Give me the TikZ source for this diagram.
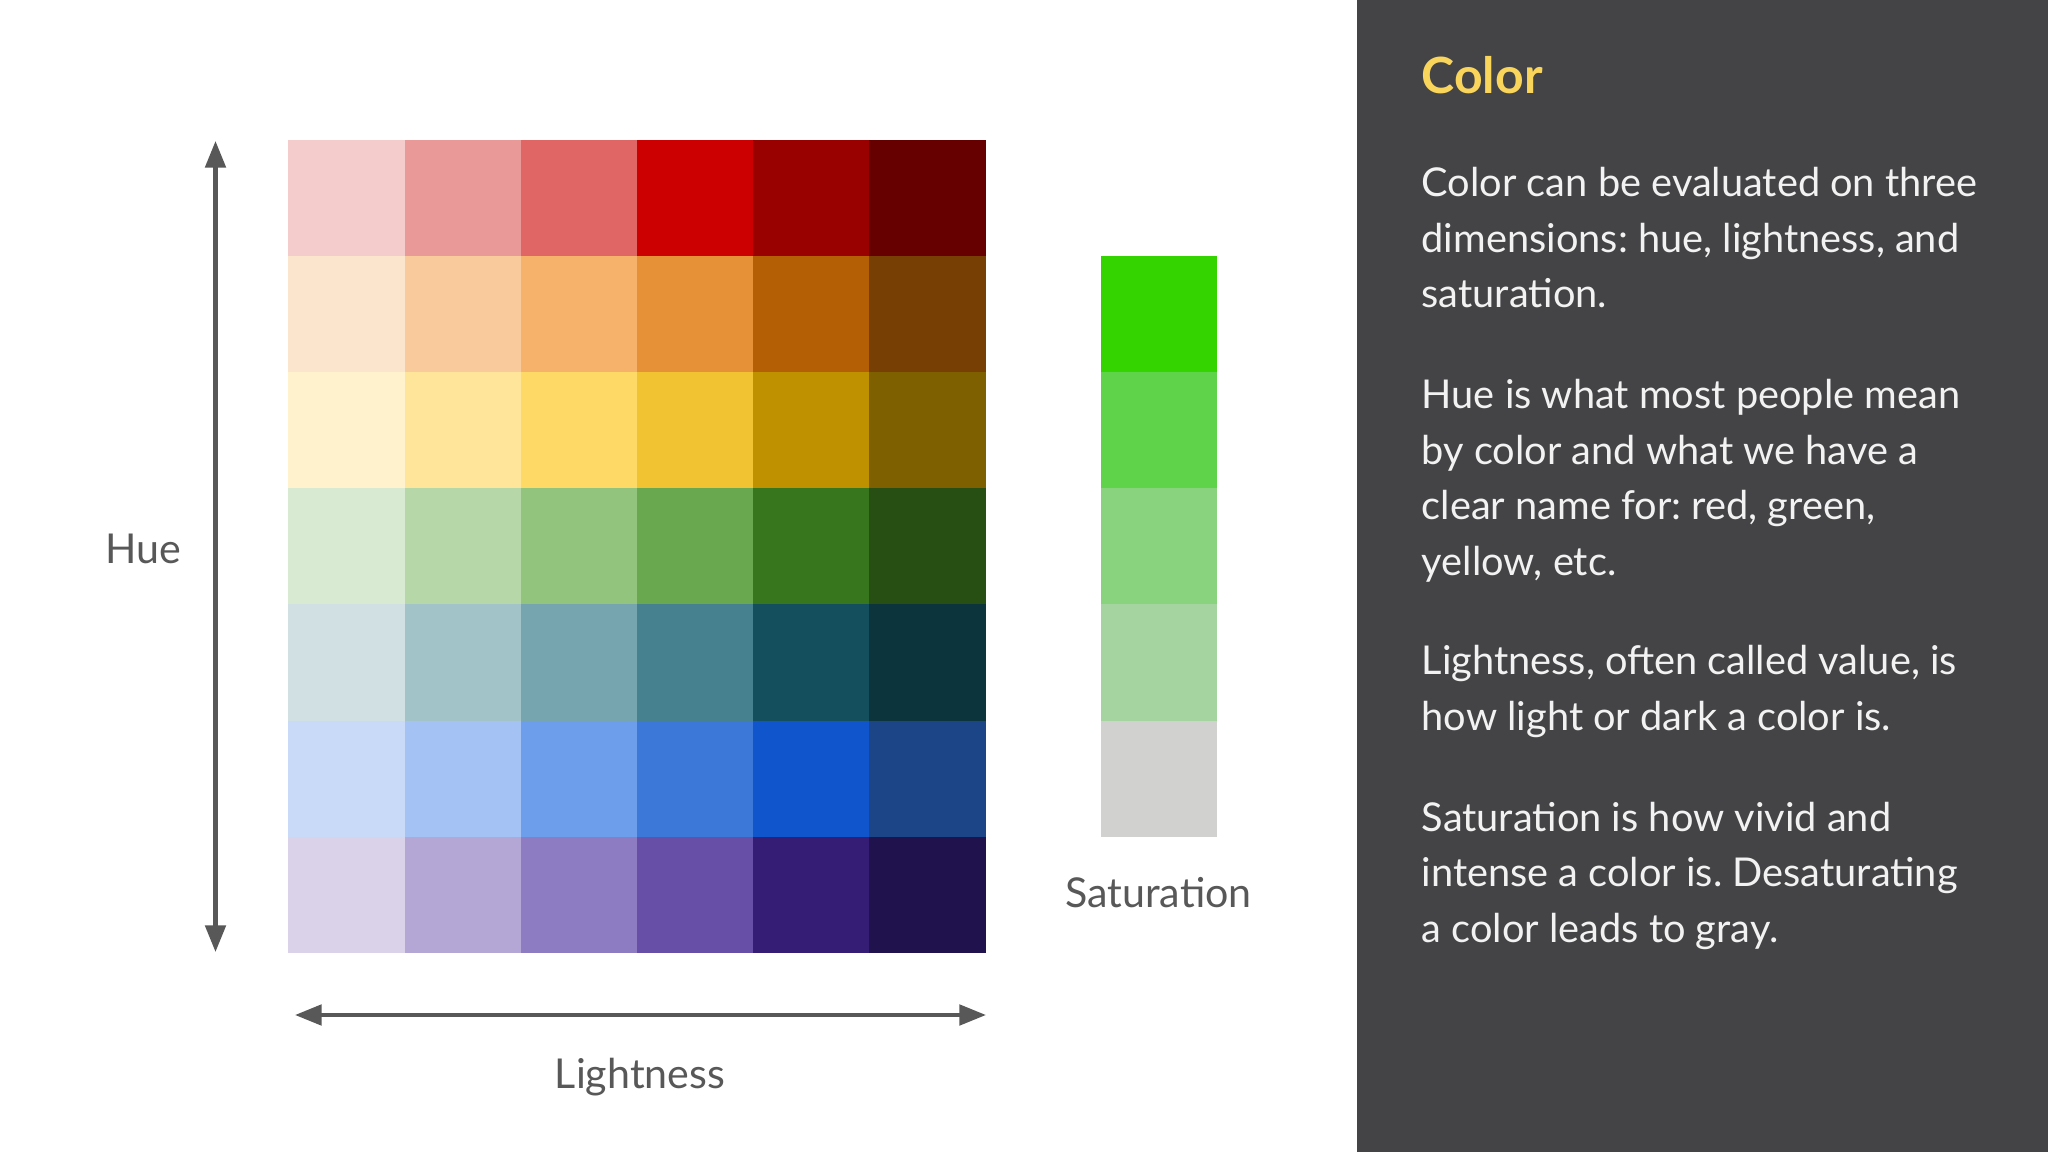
\documentclass[tikz,border=0pt]{standalone}
\usepackage{fontspec}
\setmainfont{Lato}
\frenchspacing
\usetikzlibrary{arrows.meta}
% grid colours (rows: hue, columns: lightness)
\definecolor{g11}{HTML}{F4CCCC}\definecolor{g12}{HTML}{EA9999}\definecolor{g13}{HTML}{E06666}\definecolor{g14}{HTML}{CC0000}\definecolor{g15}{HTML}{990000}\definecolor{g16}{HTML}{660000}
\definecolor{g21}{HTML}{FCE5CD}\definecolor{g22}{HTML}{F9CB9C}\definecolor{g23}{HTML}{F6B26B}\definecolor{g24}{HTML}{E69138}\definecolor{g25}{HTML}{B45F06}\definecolor{g26}{HTML}{783F04}
\definecolor{g31}{HTML}{FFF2CC}\definecolor{g32}{HTML}{FFE599}\definecolor{g33}{HTML}{FFD966}\definecolor{g34}{HTML}{F1C232}\definecolor{g35}{HTML}{BF9000}\definecolor{g36}{HTML}{7F6000}
\definecolor{g41}{HTML}{D9EAD3}\definecolor{g42}{HTML}{B6D7A8}\definecolor{g43}{HTML}{93C47D}\definecolor{g44}{HTML}{6AA84F}\definecolor{g45}{HTML}{38761D}\definecolor{g46}{HTML}{274E13}
\definecolor{g51}{HTML}{D0E0E3}\definecolor{g52}{HTML}{A2C4C9}\definecolor{g53}{HTML}{76A5AF}\definecolor{g54}{HTML}{45818E}\definecolor{g55}{HTML}{134F5C}\definecolor{g56}{HTML}{0C343D}
\definecolor{g61}{HTML}{C9DAF8}\definecolor{g62}{HTML}{A4C2F4}\definecolor{g63}{HTML}{6D9EEB}\definecolor{g64}{HTML}{3C78D8}\definecolor{g65}{HTML}{1155CC}\definecolor{g66}{HTML}{1C4587}
\definecolor{g71}{HTML}{D9D2E9}\definecolor{g72}{HTML}{B4A7D6}\definecolor{g73}{HTML}{8E7CC3}\definecolor{g74}{HTML}{674EA7}\definecolor{g75}{HTML}{351C75}\definecolor{g76}{HTML}{20124D}
% saturation bar
\definecolor{s1}{HTML}{33D400}\definecolor{s2}{HTML}{5FD44B}\definecolor{s3}{HTML}{89D37E}\definecolor{s4}{HTML}{A5D4A0}\definecolor{s5}{HTML}{D1D2D0}
\definecolor{panel}{HTML}{444346}
\definecolor{titlecol}{HTML}{FAD55C}
\definecolor{bodycol}{HTML}{F2F2F2}
\definecolor{axiscol}{HTML}{585858}
\tikzset{
  cell/.style={draw=none, inner sep=0pt, minimum width=1.166cm, minimum height=1.166cm},
  axisarrow/.style={draw=axiscol, line width=1.15pt, {Triangle[width=5.8pt,length=7.6pt]}-{Triangle[width=5.8pt,length=7.6pt]}},
  axislabel/.style={text=axiscol, font=\fontsize{11.7}{14}\selectfont, anchor=base, inner sep=0pt},
  bodyline/.style={text=bodycol, font=\fontsize{11.3}{13.5}\selectfont, anchor=base west, inner sep=0pt},
  titleline/.style={text=titlecol, font=\fontsize{14.2}{17}\selectfont\bfseries, anchor=base west, inner sep=0pt}
}
\begin{document}
\begin{tikzpicture}[x=0.01cm,y=-0.01cm]
\useasboundingbox (0,0) rectangle (2048,1152);
\fill[white] (0,0) rectangle (1357,1152);
\fill[panel] (1357,0) rectangle (2048,1152);
% colour grid
\foreach \r in {1,...,7}{
  \foreach \c in {1,...,6}{
    \node[cell, fill=g\r\c] (cell\r\c) at ({288.6+116.2*(\c-0.5)},{139.8+116.2*(\r-0.5)}) {};
  }
}
% saturation bar
\foreach \s in {1,...,5}{
  \node[cell, fill=s\s] (sat\s) at (1159,{256+116.2*(\s-0.5)}) {};
}
% axes
\coordinate (hueTop) at (215.5,141);
\coordinate (hueBot) at (215.5,952);
\coordinate (lightL) at (295,1015);
\coordinate (lightR) at (986,1015);
\draw[axisarrow] (hueBot) -- (hueTop);
\draw[axisarrow] (lightL) -- (lightR);
\node[axislabel] (hueLabel) at (143.7,563.5) {Hue};
\node[axislabel] (lightLabel) at (640,1088.5) {Lightness};
\node[axislabel] (satLabel) at (1158.5,907) {Saturation};
% panel text
\node[titleline] (title) at (1421,94) {Color};
\node[bodyline] (p1a) at (1421,197) {Color can be evaluated on three};
\node[bodyline] (p1b) at (1421,252.5) {dimensions: hue, lightness, and};
\node[bodyline] (p1c) at (1421,308) {saturation.};
\node[bodyline] (p2a) at (1421,409) {Hue is what most people mean};
\node[bodyline] (p2b) at (1421,464.5) {by color and what we have a};
\node[bodyline] (p2c) at (1421,520) {clear name for: red, green,};
\node[bodyline] (p2d) at (1421,575.5) {yellow, etc.};
\node[bodyline] (p3a) at (1421,675) {Lightness, often called value, is};
\node[bodyline] (p3b) at (1421,730.5) {how light or dark a color is.};
\node[bodyline] (p4a) at (1421,831) {Saturation is how vivid and};
\node[bodyline] (p4b) at (1421,886.5) {intense a color is. Desaturating};
\node[bodyline] (p4c) at (1421,942) {a color leads to gray.};
\end{tikzpicture}
\end{document}
